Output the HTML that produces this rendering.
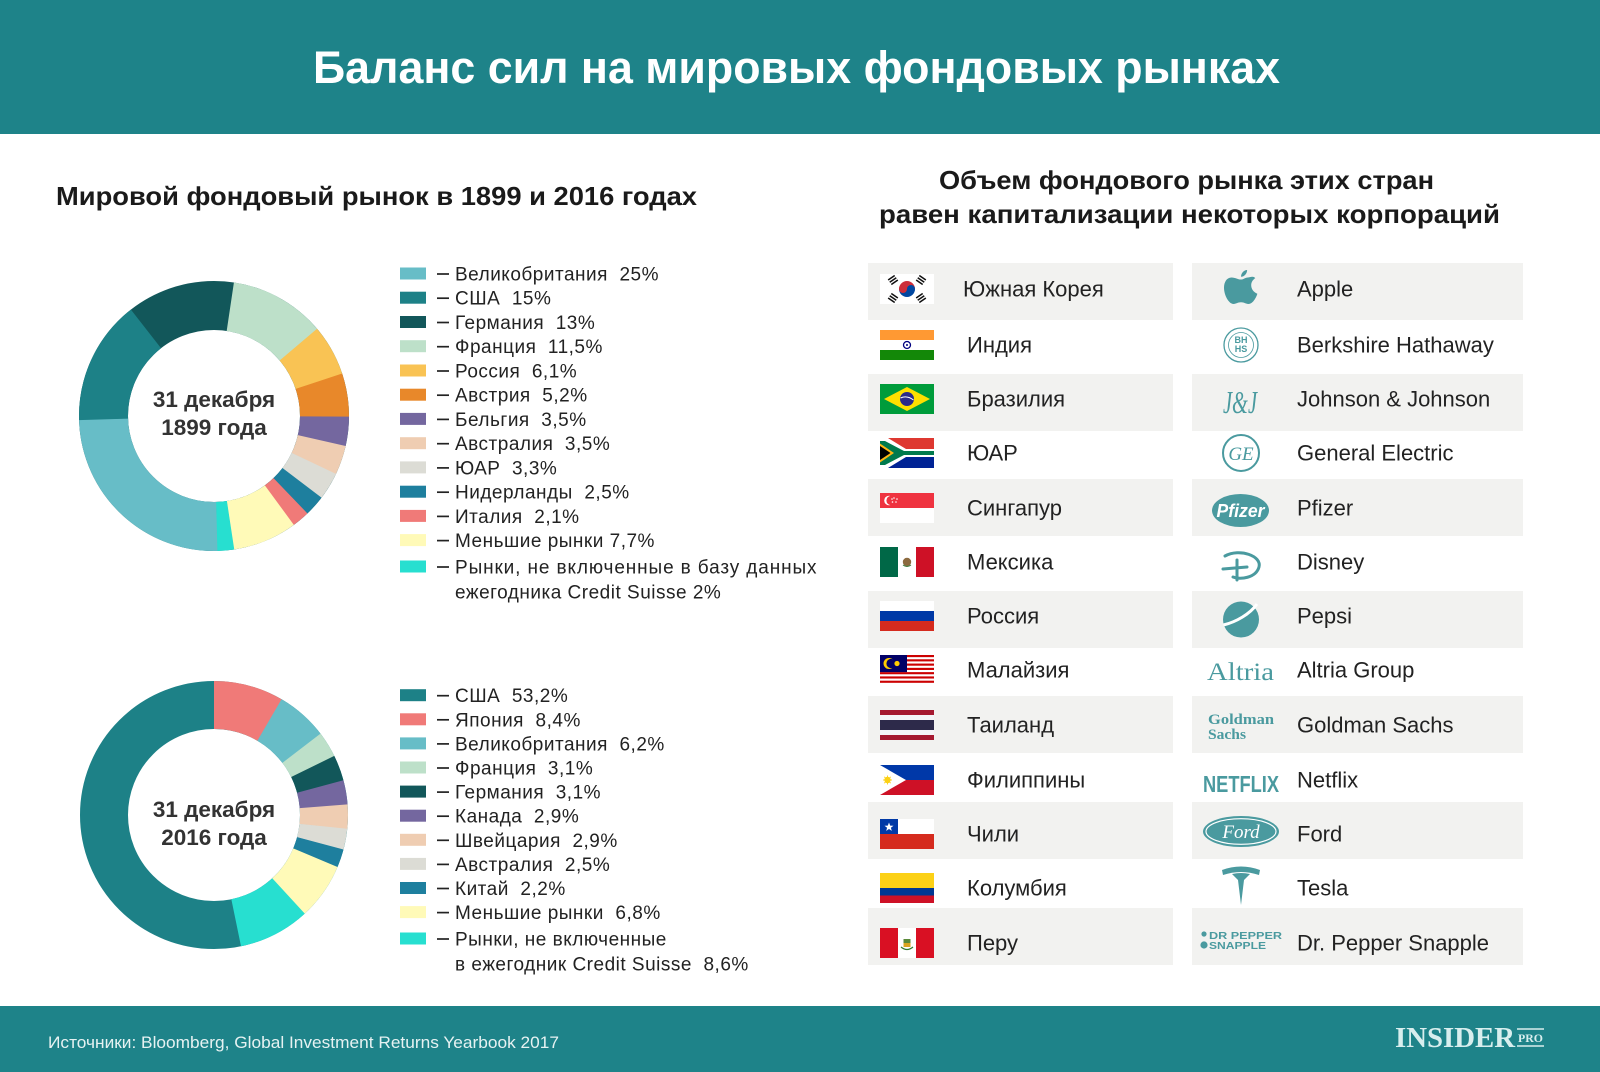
<!DOCTYPE html>
<html>
<head>
<meta charset="utf-8">
<style>
html,body{margin:0;padding:0;background:#fff;}
svg{display:block;}
text{white-space:pre;}
.sans{font-family:"Liberation Sans","DejaVu Sans",sans-serif;}
.serif{font-family:"Liberation Serif","DejaVu Serif",serif;}
.lg{font-family:"Liberation Sans","DejaVu Sans",sans-serif;font-size:19px;fill:#222;letter-spacing:0.5px;}
.rt{font-family:"Liberation Sans","DejaVu Sans",sans-serif;font-size:22px;fill:#222;}
</style>
</head>
<body>
<svg width="1600" height="1072" viewBox="0 0 1600 1072" xmlns="http://www.w3.org/2000/svg" xml:space="preserve">
<rect width="1600" height="1072" fill="#ffffff"/>
<!-- Header -->
<rect x="0" y="0" width="1600" height="134" fill="#1e8389"/>
<text class="sans" x="313" y="83" font-size="45" font-weight="bold" fill="#ffffff" textLength="967" lengthAdjust="spacingAndGlyphs">Баланс сил на мировых фондовых рынках</text>

<!-- Subtitles -->
<text class="sans" x="56" y="205" font-size="26" font-weight="bold" fill="#1a1a1a" textLength="641" lengthAdjust="spacingAndGlyphs">Мировой фондовый рынок в 1899 и 2016 годах</text>
<text class="sans" x="939" y="189" font-size="26" font-weight="bold" fill="#1a1a1a" textLength="495" lengthAdjust="spacingAndGlyphs">Объем фондового рынка этих стран</text>
<text class="sans" x="879" y="223" font-size="26" font-weight="bold" fill="#1a1a1a" textLength="621" lengthAdjust="spacingAndGlyphs">равен капитализации некоторых корпораций</text>

<!-- Donut 1 (1899) -->
<g transform="translate(214,416) rotate(-90)" fill="none" stroke-width="49">
  <circle r="110.5" stroke="#12575a"/>
  <circle r="110.5" stroke="#bde0c9" stroke-dasharray="80 700" stroke-dashoffset="-16.39"/>
  <circle r="110.5" stroke="#f9c354" stroke-dasharray="42.6 700" stroke-dashoffset="-95.92"/>
  <circle r="110.5" stroke="#e8882a" stroke-dasharray="36.4 700" stroke-dashoffset="-138.10"/>
  <circle r="110.5" stroke="#74679f" stroke-dasharray="24.6 700" stroke-dashoffset="-174.06"/>
  <circle r="110.5" stroke="#efcdb2" stroke-dasharray="24.6 700" stroke-dashoffset="-198.26"/>
  <circle r="110.5" stroke="#dcdcd5" stroke-dasharray="23.2 700" stroke-dashoffset="-222.47"/>
  <circle r="110.5" stroke="#1e7f9e" stroke-dasharray="17.7 700" stroke-dashoffset="-245.29"/>
  <circle r="110.5" stroke="#f07a78" stroke-dasharray="14.9 700" stroke-dashoffset="-262.57"/>
  <circle r="110.5" stroke="#fffab8" stroke-dasharray="53.6 700" stroke-dashoffset="-277.10"/>
  <circle r="110.5" stroke="#27dfd0" stroke-dasharray="14.2 700" stroke-dashoffset="-330.34"/>
  <circle r="110.5" stroke="#67bdc7" stroke-dasharray="173.3 700" stroke-dashoffset="-344.18"/>
  <circle r="110.5" stroke="#1d8187" stroke-dasharray="103.73 700" stroke-dashoffset="-517.06"/>
</g>
<text class="sans" x="214" y="407" font-size="22.5" font-weight="bold" fill="#333" text-anchor="middle">31 декабря</text>
<text class="sans" x="214" y="435" font-size="22.5" font-weight="bold" fill="#333" text-anchor="middle">1899 года</text>

<!-- Donut 2 (2016) -->
<g transform="translate(214,815) rotate(-90)" fill="none" stroke-width="48">
  <circle r="110" stroke="#1d8187"/>
  <circle r="110" stroke="#f07a78" stroke-dasharray="58.5 700" stroke-dashoffset="0"/>
  <circle r="110" stroke="#67bdc7" stroke-dasharray="43.3 700" stroke-dashoffset="-58.11"/>
  <circle r="110" stroke="#bde0c9" stroke-dasharray="21.85 700" stroke-dashoffset="-101.01"/>
  <circle r="110" stroke="#12575a" stroke-dasharray="21.85 700" stroke-dashoffset="-122.46"/>
  <circle r="110" stroke="#74679f" stroke-dasharray="20.46 700" stroke-dashoffset="-143.90"/>
  <circle r="110" stroke="#efcdb2" stroke-dasharray="20.46 700" stroke-dashoffset="-163.97"/>
  <circle r="110" stroke="#dcdcd5" stroke-dasharray="17.7 700" stroke-dashoffset="-184.03"/>
  <circle r="110" stroke="#1e7f9e" stroke-dasharray="15.6 700" stroke-dashoffset="-201.33"/>
  <circle r="110" stroke="#fffab8" stroke-dasharray="47.45 700" stroke-dashoffset="-216.55"/>
  <circle r="110" stroke="#27dfd0" stroke-dasharray="59.5 700" stroke-dashoffset="-263.59"/>
</g>
<text class="sans" x="214" y="817" font-size="22.5" font-weight="bold" fill="#333" text-anchor="middle">31 декабря</text>
<text class="sans" x="214" y="845" font-size="22.5" font-weight="bold" fill="#333" text-anchor="middle">2016 года</text>

<!-- Legend 1 -->
<g>
  <rect x="400" y="267.5" width="26" height="12" fill="#67bdc7"/>
  <rect x="400" y="291.7" width="26" height="12" fill="#1d8187"/>
  <rect x="400" y="316" width="26" height="12" fill="#12575a"/>
  <rect x="400" y="340.2" width="26" height="12" fill="#bde0c9"/>
  <rect x="400" y="364.5" width="26" height="12" fill="#f9c354"/>
  <rect x="400" y="388.7" width="26" height="12" fill="#e8882a"/>
  <rect x="400" y="412.9" width="26" height="12" fill="#74679f"/>
  <rect x="400" y="437.2" width="26" height="12" fill="#efcdb2"/>
  <rect x="400" y="461.4" width="26" height="12" fill="#dcdcd5"/>
  <rect x="400" y="485.7" width="26" height="12" fill="#1e7f9e"/>
  <rect x="400" y="509.9" width="26" height="12" fill="#f07a78"/>
  <rect x="400" y="534.1" width="26" height="12" fill="#fffab8"/>
  <rect x="400" y="560.5" width="26" height="12" fill="#27dfd0"/>
  <g stroke="#222" stroke-width="1.7">
    <line x1="437" y1="274" x2="449" y2="274"/>
    <line x1="437" y1="298.2" x2="449" y2="298.2"/>
    <line x1="437" y1="322.5" x2="449" y2="322.5"/>
    <line x1="437" y1="346.7" x2="449" y2="346.7"/>
    <line x1="437" y1="371" x2="449" y2="371"/>
    <line x1="437" y1="395.2" x2="449" y2="395.2"/>
    <line x1="437" y1="419.4" x2="449" y2="419.4"/>
    <line x1="437" y1="443.7" x2="449" y2="443.7"/>
    <line x1="437" y1="467.9" x2="449" y2="467.9"/>
    <line x1="437" y1="492.2" x2="449" y2="492.2"/>
    <line x1="437" y1="516.4" x2="449" y2="516.4"/>
    <line x1="437" y1="540.6" x2="449" y2="540.6"/>
    <line x1="437" y1="567" x2="449" y2="567"/>
  </g>
  <text class="lg" x="455" y="280.5">Великобритания  25%</text>
  <text class="lg" x="455" y="304.7">США  15%</text>
  <text class="lg" x="455" y="329">Германия  13%</text>
  <text class="lg" x="455" y="353.2">Франция  11,5%</text>
  <text class="lg" x="455" y="377.5">Россия  6,1%</text>
  <text class="lg" x="455" y="401.7">Австрия  5,2%</text>
  <text class="lg" x="455" y="425.9">Бельгия  3,5%</text>
  <text class="lg" x="455" y="450.2">Австралия  3,5%</text>
  <text class="lg" x="455" y="474.4">ЮАР  3,3%</text>
  <text class="lg" x="455" y="498.7">Нидерланды  2,5%</text>
  <text class="lg" x="455" y="522.9">Италия  2,1%</text>
  <text class="lg" x="455" y="547.1">Меньшие рынки 7,7%</text>
  <text class="lg" x="455" y="573.5" textLength="362">Рынки, не включенные в базу данных</text>
  <text class="lg" x="455" y="598.5">ежегодника Credit Suisse 2%</text>
</g>

<!-- Legend 2 -->
<g>
  <rect x="400" y="689.2" width="26" height="12" fill="#1d8187"/>
  <rect x="400" y="713.3" width="26" height="12" fill="#f07a78"/>
  <rect x="400" y="737.4" width="26" height="12" fill="#67bdc7"/>
  <rect x="400" y="761.5" width="26" height="12" fill="#bde0c9"/>
  <rect x="400" y="785.6" width="26" height="12" fill="#12575a"/>
  <rect x="400" y="809.7" width="26" height="12" fill="#74679f"/>
  <rect x="400" y="833.8" width="26" height="12" fill="#efcdb2"/>
  <rect x="400" y="857.9" width="26" height="12" fill="#dcdcd5"/>
  <rect x="400" y="882" width="26" height="12" fill="#1e7f9e"/>
  <rect x="400" y="906.1" width="26" height="12" fill="#fffab8"/>
  <rect x="400" y="932.5" width="26" height="12" fill="#27dfd0"/>
  <g stroke="#222" stroke-width="1.7">
    <line x1="437" y1="695.7" x2="449" y2="695.7"/>
    <line x1="437" y1="719.8" x2="449" y2="719.8"/>
    <line x1="437" y1="743.9" x2="449" y2="743.9"/>
    <line x1="437" y1="768" x2="449" y2="768"/>
    <line x1="437" y1="792.1" x2="449" y2="792.1"/>
    <line x1="437" y1="816.2" x2="449" y2="816.2"/>
    <line x1="437" y1="840.3" x2="449" y2="840.3"/>
    <line x1="437" y1="864.4" x2="449" y2="864.4"/>
    <line x1="437" y1="888.5" x2="449" y2="888.5"/>
    <line x1="437" y1="912.6" x2="449" y2="912.6"/>
    <line x1="437" y1="939" x2="449" y2="939"/>
  </g>
  <text class="lg" x="455" y="702.2">США  53,2%</text>
  <text class="lg" x="455" y="726.3">Япония  8,4%</text>
  <text class="lg" x="455" y="750.4">Великобритания  6,2%</text>
  <text class="lg" x="455" y="774.5">Франция  3,1%</text>
  <text class="lg" x="455" y="798.6">Германия  3,1%</text>
  <text class="lg" x="455" y="822.7">Канада  2,9%</text>
  <text class="lg" x="455" y="846.8">Швейцария  2,9%</text>
  <text class="lg" x="455" y="870.9">Австралия  2,5%</text>
  <text class="lg" x="455" y="895">Китай  2,2%</text>
  <text class="lg" x="455" y="919.1">Меньшие рынки  6,8%</text>
  <text class="lg" x="455" y="945.5">Рынки, не включенные</text>
  <text class="lg" x="455" y="970.5">в ежегодник Credit Suisse  8,6%</text>
</g>

<!-- Table gray rows -->
<g fill="#f2f2f0">
  <rect x="868" y="263" width="305" height="57"/>
  <rect x="868" y="374" width="305" height="57"/>
  <rect x="868" y="479" width="305" height="57"/>
  <rect x="868" y="591" width="305" height="57"/>
  <rect x="868" y="696" width="305" height="57"/>
  <rect x="868" y="802" width="305" height="57"/>
  <rect x="868" y="908" width="305" height="57"/>
  <rect x="1192" y="263" width="331" height="57"/>
  <rect x="1192" y="374" width="331" height="57"/>
  <rect x="1192" y="479" width="331" height="57"/>
  <rect x="1192" y="591" width="331" height="57"/>
  <rect x="1192" y="696" width="331" height="57"/>
  <rect x="1192" y="802" width="331" height="57"/>
  <rect x="1192" y="908" width="331" height="57"/>
</g>

<!-- Flags -->
<!-- Korea -->
<g>
  <rect x="880" y="274" width="54" height="30" fill="#ffffff"/>
  <path d="M899,289 A8,8 0 0 1 915,289 Z" fill="#cd2e3a"/>
  <path d="M899,289 A8,8 0 0 0 915,289 Z" fill="#0047a0"/>
  <circle cx="903" cy="289" r="4" fill="#cd2e3a"/>
  <circle cx="911" cy="289" r="4" fill="#0047a0"/>
  <g fill="#111">
    <g transform="translate(893,280) rotate(-35)"><rect x="-4" y="-3.5" width="8" height="1.5"/><rect x="-4" y="-0.75" width="8" height="1.5"/><rect x="-4" y="2" width="8" height="1.5"/></g>
    <g transform="translate(921,280) rotate(35)"><rect x="-4" y="-3.5" width="8" height="1.5"/><rect x="-4" y="-0.75" width="8" height="1.5"/><rect x="-4" y="2" width="8" height="1.5"/></g>
    <g transform="translate(893,298) rotate(35)"><rect x="-4" y="-3.5" width="8" height="1.5"/><rect x="-4" y="-0.75" width="8" height="1.5"/><rect x="-4" y="2" width="8" height="1.5"/></g>
    <g transform="translate(921,298) rotate(-35)"><rect x="-4" y="-3.5" width="8" height="1.5"/><rect x="-4" y="-0.75" width="8" height="1.5"/><rect x="-4" y="2" width="8" height="1.5"/></g>
  </g>
</g>
<!-- India -->
<g>
  <rect x="880" y="330" width="54" height="10" fill="#ff9933"/>
  <rect x="880" y="340" width="54" height="10" fill="#ffffff"/>
  <rect x="880" y="350" width="54" height="10" fill="#138808"/>
  <circle cx="907" cy="345" r="3.5" fill="none" stroke="#000080" stroke-width="1.3"/>
  <circle cx="907" cy="345" r="1" fill="#000080"/>
</g>
<!-- Brazil -->
<g>
  <rect x="880" y="384" width="54" height="30" fill="#009c3b"/>
  <polygon points="884,399 907,387 930,399 907,411" fill="#ffdf00"/>
  <circle cx="907" cy="399" r="7" fill="#2a2a8a"/>
  <path d="M900.5,398 Q907,395 913.5,400" stroke="#fff" stroke-width="1" fill="none"/>
</g>
<!-- South Africa -->
<g>
  <rect x="880" y="438" width="54" height="15" fill="#de3831"/>
  <rect x="880" y="453" width="54" height="15" fill="#002395"/>
  <polygon points="880,438 888,438 906,449 934,449 934,457 906,457 888,468 880,468" fill="#ffffff"/>
  <polygon points="880,441 885,441 904,451 934,451 934,455 904,455 885,465 880,465" fill="#007a4d"/>
  <polygon points="880,443.5 894,453 880,462.5" fill="#ffb612"/>
  <polygon points="880,446 890.5,453 880,460" fill="#000000"/>
</g>
<!-- Singapore -->
<g>
  <rect x="880" y="493" width="54" height="15" fill="#ef3340"/>
  <rect x="880" y="508" width="54" height="15" fill="#ffffff"/>
  <circle cx="889" cy="500.5" r="4.8" fill="#ffffff"/>
  <circle cx="891" cy="500.5" r="4.6" fill="#ef3340"/>
  <g fill="#fff"><circle cx="894" cy="498" r="0.8"/><circle cx="897" cy="499" r="0.8"/><circle cx="896" cy="502" r="0.8"/><circle cx="892.5" cy="502" r="0.8"/><circle cx="892" cy="499" r="0.8"/></g>
</g>
<!-- Mexico -->
<g>
  <rect x="880" y="547" width="18" height="30" fill="#006847"/>
  <rect x="898" y="547" width="18" height="30" fill="#ffffff"/>
  <rect x="916" y="547" width="18" height="30" fill="#ce1126"/>
  <circle cx="907" cy="562" r="4.2" fill="#8c6a3f"/>
  <path d="M903,565 Q907,568 911,565" stroke="#3a7a3a" stroke-width="1" fill="none"/>
</g>
<!-- Russia -->
<g>
  <rect x="880" y="601" width="54" height="10" fill="#ffffff"/>
  <rect x="880" y="611" width="54" height="10" fill="#0039a6"/>
  <rect x="880" y="621" width="54" height="10" fill="#d52b1e"/>
</g>
<!-- Malaysia -->
<g>
  <rect x="880" y="655" width="54" height="30" fill="#ffffff"/>
  <g fill="#cc0001">
    <rect x="880" y="655" width="54" height="2.14"/>
    <rect x="880" y="659.28" width="54" height="2.14"/>
    <rect x="880" y="663.56" width="54" height="2.14"/>
    <rect x="880" y="667.84" width="54" height="2.14"/>
    <rect x="880" y="672.12" width="54" height="2.14"/>
    <rect x="880" y="676.4" width="54" height="2.14"/>
    <rect x="880" y="680.68" width="54" height="2.14"/>
  </g>
  <rect x="880" y="655" width="27" height="17.1" fill="#010066"/>
  <circle cx="889" cy="663.5" r="5.5" fill="#ffcc00"/>
  <circle cx="891" cy="663.5" r="4.6" fill="#010066"/>
  <circle cx="897" cy="663.5" r="2.6" fill="#ffcc00"/>
</g>
<!-- Thailand -->
<g>
  <rect x="880" y="710" width="54" height="30" fill="#a51931"/>
  <rect x="880" y="715" width="54" height="20" fill="#f4f5f8"/>
  <rect x="880" y="720" width="54" height="10" fill="#2d2a4a"/>
</g>
<!-- Philippines -->
<g>
  <rect x="880" y="765" width="54" height="15" fill="#0038a8"/>
  <rect x="880" y="780" width="54" height="15" fill="#ce1126"/>
  <polygon points="880,765 906,780 880,795" fill="#ffffff"/>
  <circle cx="887.5" cy="780" r="3.2" fill="#fcd116"/>
  <g stroke="#fcd116" stroke-width="0.9"><line x1="883" y1="780" x2="892" y2="780"/><line x1="887.5" y1="775.5" x2="887.5" y2="784.5"/><line x1="884.3" y1="776.8" x2="890.7" y2="783.2"/><line x1="884.3" y1="783.2" x2="890.7" y2="776.8"/></g>
</g>
<!-- Chile -->
<g>
  <rect x="880" y="819" width="54" height="15" fill="#ffffff"/>
  <rect x="880" y="834" width="54" height="15" fill="#d52b1e"/>
  <rect x="880" y="819" width="18" height="15" fill="#0039a6"/>
  <polygon points="889,822.5 890.2,825.6 893.5,825.7 890.9,827.7 891.8,830.9 889,829 886.2,830.9 887.1,827.7 884.5,825.7 887.8,825.6" fill="#ffffff"/>
</g>
<!-- Colombia -->
<g>
  <rect x="880" y="873" width="54" height="15" fill="#fcd116"/>
  <rect x="880" y="888" width="54" height="7.5" fill="#003893"/>
  <rect x="880" y="895.5" width="54" height="7.5" fill="#ce1126"/>
</g>
<!-- Peru -->
<g>
  <rect x="880" y="928" width="18" height="30" fill="#d91023"/>
  <rect x="898" y="928" width="18" height="30" fill="#ffffff"/>
  <rect x="916" y="928" width="18" height="30" fill="#d91023"/>
  <rect x="903.5" y="939" width="7" height="8" fill="#5a8a3a"/>
  <rect x="903.5" y="943" width="7" height="4" fill="#d9a520"/>
  <path d="M901,947 Q907,952 913,947" stroke="#2f7a2f" stroke-width="1.2" fill="none"/>
</g>

<!-- Left column text -->
<text class="rt" x="963" y="296.5">Южная Корея</text>
<text class="rt" x="967" y="352.5">Индия</text>
<text class="rt" x="967" y="406.5">Бразилия</text>
<text class="rt" x="967" y="460.5">ЮАР</text>
<text class="rt" x="967" y="515.5">Сингапур</text>
<text class="rt" x="967" y="569.5">Мексика</text>
<text class="rt" x="967" y="623.5">Россия</text>
<text class="rt" x="967" y="677.5">Малайзия</text>
<text class="rt" x="967" y="732.5">Таиланд</text>
<text class="rt" x="967" y="787.5">Филиппины</text>
<text class="rt" x="967" y="841.5">Чили</text>
<text class="rt" x="967" y="895.5">Колумбия</text>
<text class="rt" x="967" y="950.5">Перу</text>

<!-- Right column text -->
<text class="rt" x="1297" y="296.5">Apple</text>
<text class="rt" x="1297" y="352.5">Berkshire Hathaway</text>
<text class="rt" x="1297" y="406.5">Johnson &amp; Johnson</text>
<text class="rt" x="1297" y="460.5">General Electric</text>
<text class="rt" x="1297" y="515.5">Pfizer</text>
<text class="rt" x="1297" y="569.5">Disney</text>
<text class="rt" x="1297" y="623.5">Pepsi</text>
<text class="rt" x="1297" y="677.5">Altria Group</text>
<text class="rt" x="1297" y="732.5">Goldman Sachs</text>
<text class="rt" x="1297" y="787.5">Netflix</text>
<text class="rt" x="1297" y="841.5">Ford</text>
<text class="rt" x="1297" y="895.5">Tesla</text>
<text class="rt" x="1297" y="950.5">Dr. Pepper Snapple</text>

<!-- Logos -->
<g fill="#4a9a9f">
  <!-- Apple -->
  <g transform="translate(1224,270) scale(0.34)">
    <path d="M50,28 C40,28 34,22 22,22 C8,22 0,36 0,52 C0,74 14,100 28,100 C36,100 40,95 50,95 C60,95 63,100 72,100 C86,100 96,78 98,70 C86,65 80,55 80,45 C80,35 86,28 92,24 C86,16 76,22 70,22 C62,22 58,28 50,28 Z"/>
    <path d="M50,20 C50,10 58,0 68,0 C68,10 60,20 50,20 Z"/>
  </g>
  <!-- Berkshire -->
  <circle cx="1241" cy="345" r="17" fill="none" stroke="#4a9a9f" stroke-width="1.3"/>
  <circle cx="1241" cy="345" r="12.5" fill="none" stroke="#4a9a9f" stroke-width="0.8"/>
  <text class="sans" x="1241" y="343" font-size="9" font-weight="bold" text-anchor="middle">BH</text>
  <text class="sans" x="1241" y="352" font-size="9" font-weight="bold" text-anchor="middle">HS</text>
  <!-- J&J -->
  <text class="serif" x="1240" y="413" font-size="32" font-style="italic" text-anchor="middle" textLength="34" lengthAdjust="spacingAndGlyphs">J&amp;J</text>
  <!-- GE -->
  <circle cx="1241" cy="453" r="18" fill="none" stroke="#4a9a9f" stroke-width="2"/>
  <text class="serif" x="1241" y="460" font-size="19" font-style="italic" text-anchor="middle">GE</text>
  <!-- Pfizer -->
  <ellipse cx="1240.5" cy="510.5" rx="28.5" ry="16.5"/>
  <text class="sans" x="1240.5" y="517" font-size="18" font-style="italic" font-weight="bold" fill="#ffffff" text-anchor="middle" textLength="48" lengthAdjust="spacingAndGlyphs">Pfizer</text>
  <!-- Disney -->
  <g fill="none" stroke="#4a9a9f" stroke-width="3" stroke-linecap="round">
    <path d="M1225,556 C1240,548 1262,556 1259,567 C1256,578 1240,580 1233,577"/>
    <path d="M1237,560 L1237,580"/>
    <path d="M1223,569 L1247,567"/>
  </g>
  <!-- Pepsi -->
  <circle cx="1241" cy="619.5" r="18"/>
  <path d="M1223.5,625 C1236,622 1250,614 1257,604" fill="none" stroke="#ffffff" stroke-width="3"/>
  <!-- Altria -->
  <text class="serif" x="1207" y="680" font-size="25" textLength="67" lengthAdjust="spacingAndGlyphs">Altria</text>
  <!-- Goldman Sachs -->
  <text class="serif" x="1208" y="724" font-size="15" font-weight="bold" textLength="66" lengthAdjust="spacingAndGlyphs">Goldman</text>
  <text class="serif" x="1208" y="739" font-size="15" font-weight="bold" textLength="38" lengthAdjust="spacingAndGlyphs">Sachs</text>
  <!-- Netflix -->
  <text class="sans" x="1203" y="792" font-size="23" font-weight="bold" textLength="76" lengthAdjust="spacingAndGlyphs">NETFLIX</text>
  <!-- Ford -->
  <ellipse cx="1241" cy="831.5" rx="38" ry="15.5"/>
  <ellipse cx="1241" cy="831.5" rx="35" ry="12.8" fill="none" stroke="#ffffff" stroke-width="1.2"/>
  <text class="serif" x="1241" y="838" font-size="19" font-style="italic" fill="#ffffff" text-anchor="middle">Ford</text>
  <!-- Tesla -->
  <path d="M1222,870 Q1241,863 1260,870 L1259,875 Q1241,869 1223,875 Z"/>
  <path d="M1232,874 Q1241,872 1250,874 L1244,880 L1241,905 L1238,880 Z"/>
  <!-- Dr Pepper -->
  <circle cx="1204" cy="934" r="2.6"/>
  <circle cx="1204" cy="945" r="3.6"/>
  <text class="sans" x="1209" y="939" font-size="10" font-weight="bold" textLength="73" lengthAdjust="spacingAndGlyphs">DR PEPPER</text>
  <text class="sans" x="1209" y="949" font-size="10" font-weight="bold" textLength="57" lengthAdjust="spacingAndGlyphs">SNAPPLE</text>
</g>

<!-- Footer -->
<rect x="0" y="1006" width="1600" height="66" fill="#1e8389"/>
<text class="sans" x="48" y="1048" font-size="16.5" fill="#e6f2f2" textLength="511" lengthAdjust="spacingAndGlyphs">Источники: Bloomberg, Global Investment Returns Yearbook 2017</text>
<text class="serif" x="1395" y="1047" font-size="28" font-weight="bold" fill="#d8eeee" textLength="120" lengthAdjust="spacingAndGlyphs">INSIDER</text>
<line x1="1517" y1="1029" x2="1544" y2="1029" stroke="#d8eeee" stroke-width="1.5"/>
<line x1="1517" y1="1046" x2="1544" y2="1046" stroke="#d8eeee" stroke-width="1.5"/>
<text class="serif" x="1518" y="1042" font-size="11.5" font-weight="bold" fill="#d8eeee" textLength="25" lengthAdjust="spacingAndGlyphs">PRO</text>
</svg>
</body>
</html>
